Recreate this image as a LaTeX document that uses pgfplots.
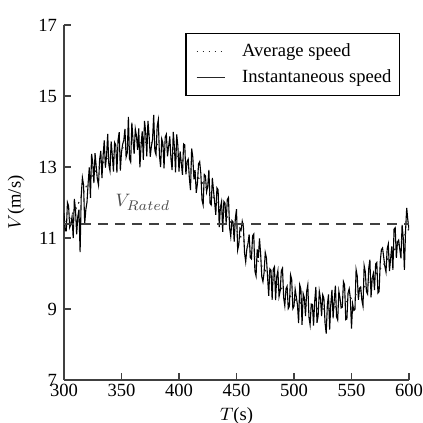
\documentclass[border=0pt]{standalone}
\usepackage{fontspec}
\setmainfont{Liberation Serif}
\usepackage{pgfplots}
\pgfplotsset{compat=1.18}
\pgfplotstableread{
x y
300 11.45
305 11.55
310 11.80
315 12.15
320 12.50
325 12.78
330 12.99
335 13.15
340 13.29
345 13.42
350 13.52
355 13.60
360 13.66
365 13.69
370 13.70
375 13.69
380 13.65
385 13.59
390 13.50
395 13.39
400 13.27
405 13.12
410 12.95
415 12.77
420 12.57
425 12.36
430 12.14
435 11.91
440 11.68
445 11.44
450 11.21
455 10.97
460 10.74
465 10.51
470 10.29
475 10.09
480 9.89
485 9.71
490 9.55
495 9.41
500 9.28
505 9.18
510 9.10
515 9.04
520 9.01
525 9.00
530 9.01
535 9.05
540 9.11
545 9.20
550 9.31
555 9.43
560 9.58
565 9.75
570 9.93
575 10.13
580 10.34
585 10.56
590 10.79
595 11.02
600 11.26
}\avgdata
\pgfplotstableread{
x y
300 11.70
301 11.20
302 11.20
303 12.00
304 11.90
305 11.30
306 11.40
307 11.60
308 11.00
309 12.10
310 11.80
311 11.10
312 11.60
313 11.80
314 10.60
315 12.20
316 12.70
317 12.50
318 11.40
319 11.80
320 12.01
321 12.55
322 12.99
323 12.13
324 13.37
325 13.11
326 12.55
327 13.39
328 13.02
329 12.66
330 12.49
331 13.22
332 13.45
333 12.69
334 13.32
335 13.75
336 12.98
337 13.31
338 13.93
339 13.06
340 12.89
341 13.72
342 13.34
343 12.87
344 13.69
345 13.62
346 12.84
347 13.76
348 13.98
349 12.90
350 13.42
351 13.64
352 13.75
353 14.07
354 13.28
355 13.40
356 14.41
357 13.23
358 13.14
359 14.25
360 13.76
361 13.37
362 14.07
363 13.88
364 13.48
365 14.09
366 12.99
367 13.60
368 14.00
369 13.20
370 14.30
371 14.00
372 13.30
373 14.30
374 13.89
375 13.29
376 13.58
377 13.78
378 14.47
379 13.46
380 13.35
381 14.14
382 14.33
383 13.32
384 13.00
385 13.79
386 13.67
387 12.96
388 13.84
389 13.92
390 13.30
391 13.58
392 13.86
393 13.24
394 12.91
395 13.99
396 13.57
397 12.85
398 13.92
399 13.60
400 12.87
401 13.44
402 13.11
403 12.78
404 13.65
405 13.62
406 12.79
407 13.16
408 13.22
409 12.69
410 12.35
411 13.52
412 13.28
413 12.65
414 12.91
415 12.27
416 12.53
417 13.09
418 13.15
419 12.81
420 12.07
421 11.93
422 12.79
423 12.75
424 12.30
425 12.46
426 12.92
427 11.98
428 11.93
429 12.69
430 12.34
431 12.00
432 11.65
433 12.41
434 12.36
435 11.31
436 11.86
437 12.02
438 11.17
439 12.03
440 11.98
441 11.43
442 12.08
443 12.14
444 11.29
445 11.04
446 11.49
447 11.45
448 10.90
449 11.56
450 11.81
451 10.66
452 10.81
453 11.27
454 11.22
455 11.47
456 11.32
457 10.58
458 10.33
459 10.69
460 10.84
461 11.10
462 10.45
463 10.41
464 11.06
465 11.11
466 10.07
467 9.93
468 10.68
469 10.44
470 10.99
471 10.55
472 9.91
473 9.77
474 10.03
475 10.59
476 10.45
477 9.91
478 9.37
479 10.13
480 10.09
481 9.26
482 10.12
483 10.19
484 9.25
485 9.91
486 10.08
487 9.35
488 9.51
489 10.08
490 10.15
491 9.32
492 9.09
493 9.57
494 9.64
495 9.01
496 9.08
497 9.96
498 9.83
499 9.01
500 9.08
501 9.56
502 9.34
503 9.12
504 8.60
505 9.68
506 9.56
507 8.55
508 9.43
509 9.32
510 8.80
511 9.49
512 9.68
513 8.77
514 8.55
515 9.14
516 9.13
517 8.53
518 9.22
519 9.62
520 8.61
521 8.81
522 9.50
523 9.30
524 8.80
525 9.40
526 9.30
527 8.61
528 8.31
529 9.11
530 9.41
531 8.42
532 9.13
533 9.54
534 8.74
535 9.25
536 9.66
537 8.78
538 8.69
539 9.50
540 9.31
541 9.03
542 9.05
543 9.77
544 9.68
545 8.70
546 8.72
547 9.45
548 9.57
549 9.30
550 8.45
551 9.14
552 8.96
553 8.99
554 10.11
555 9.93
556 9.26
557 9.59
558 9.62
559 9.25
560 9.08
561 10.22
562 10.05
563 9.49
564 9.42
565 10.15
566 10.39
567 9.33
568 9.86
569 10.00
570 9.53
571 10.27
572 10.31
573 9.45
574 9.49
575 10.33
576 10.67
577 10.72
578 10.46
579 10.20
580 10.04
581 10.69
582 10.83
583 10.07
584 10.41
585 10.76
586 10.10
587 11.25
588 11.29
589 10.44
590 10.89
591 10.94
592 10.68
593 10.43
594 11.37
595 11.00
596 10.10
597 11.20
598 11.85
599 11.50
600 11.25
}\instdata
\begin{document}
\begin{tikzpicture}
\begin{axis}[
  width=172.5pt, height=177.5pt, scale only axis,
  xmin=300, xmax=600, ymin=7, ymax=17,
  xtick={300,350,...,600}, ytick={7,9,...,17},
  axis lines=left,
  axis line style={-, black!75, line width=0.9pt},
  tick style={black!75, line width=0.7pt},
  major tick length=3.5pt, tick align=inside,
  /pgf/number format/assume math mode=true,
  ticklabel style={font=\fontsize{9.3}{11}\selectfont, black},
  label style={font=\fontsize{9.3}{11}\selectfont},
  xlabel={$T$(s)}, ylabel={$V$(m/s)},
  xlabel style={yshift=1.5pt},
  xticklabel style={yshift=1.5pt},
  legend style={at={(1,1)}, anchor=north east, xshift=-4.5pt, yshift=-4pt,
    draw=black, line width=0.6pt, font=\fontsize{9.3}{11}\selectfont,
    row sep=1pt, inner xsep=3pt, inner ysep=3pt, nodes={inner xsep=1pt}},
  legend cell align=left,
  legend image code/.code={\path (-2pt,0pt); \draw[#1] (0pt,0pt) -- (14pt,0pt); \path (21.5pt,0pt);},
]
\addplot[black, line width=0.55pt, forget plot] table {\instdata};
\addplot[black!85, line width=0.6pt, dash pattern=on 0.8pt off 2.2pt] table {\avgdata};
\addlegendentry{Average speed}
\addlegendimage{black!85, line width=0.6pt}
\addlegendentry{Instantaneous speed}
\addplot[black!75, line width=0.8pt, dash pattern=on 5pt off 3.5pt, forget plot] coordinates {(300,11.4) (600,11.4)};
\node[black!70, font=\fontsize{9.3}{11}\selectfont] at (axis cs:368.7,12.0) {$V_{Rated}$};
\coordinate (ll) at (rel axis cs:0,0);
\coordinate (ur) at (rel axis cs:1,1);
\end{axis}
\pgfresetboundingbox
\path ([shift={(-32pt,-21.5pt)}]ll) rectangle ([shift={(7pt,12.5pt)}]ur);
\end{tikzpicture}
\end{document}
